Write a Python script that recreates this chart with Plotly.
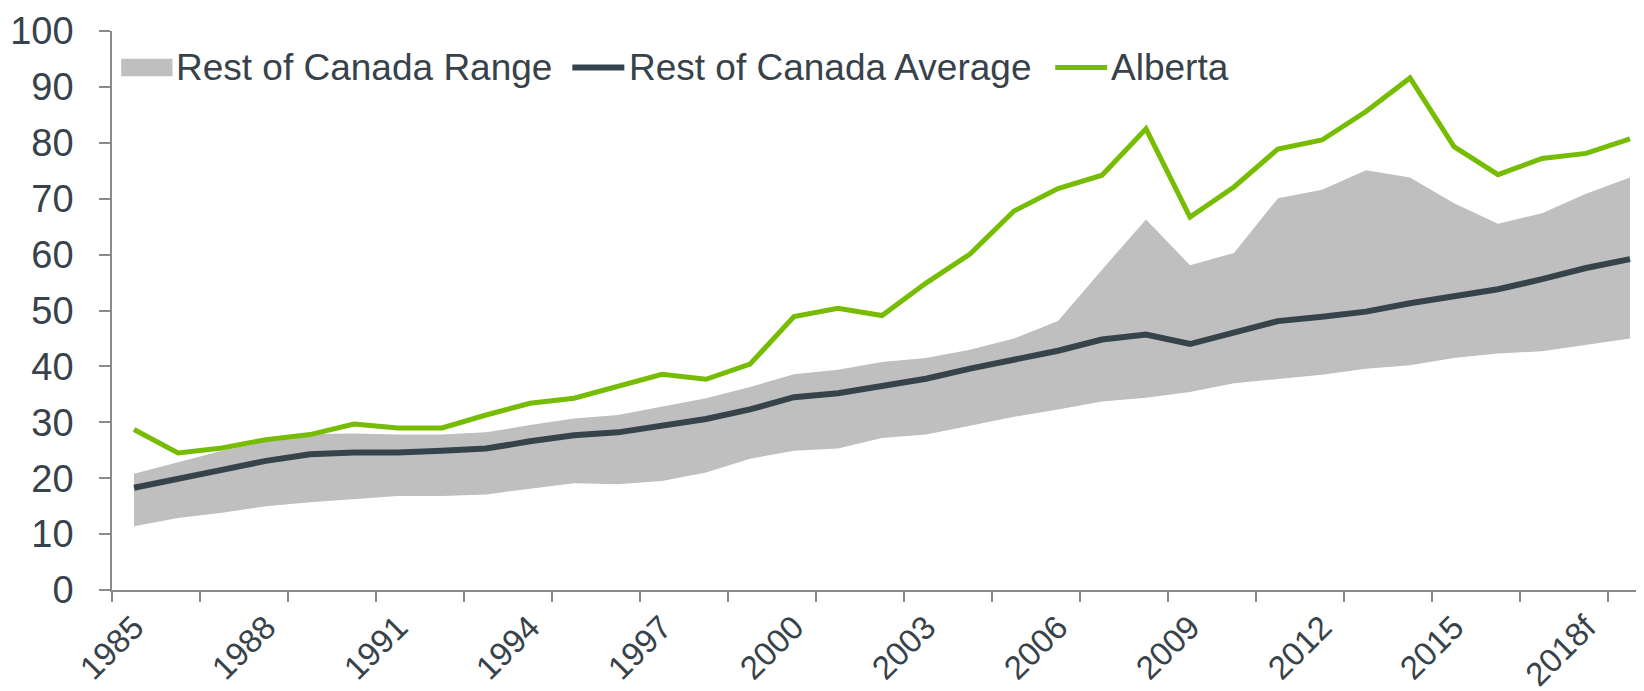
import plotly.graph_objects as go

years = [str(y) for y in range(1985, 2018)] + ["2018f", "2019f"]
range_low = [11.4, 12.9, 13.8, 15.0, 15.7, 16.2, 16.8, 16.8, 17.1, 18.1,
             19.1, 18.9, 19.5, 21.0, 23.5, 24.9, 25.3, 27.2, 27.8, 29.4,
             31.0, 32.3, 33.7, 34.4, 35.4, 37.0, 37.8, 38.5, 39.6, 40.2,
             41.5, 42.3, 42.7, 43.9, 45.0]
range_high = [20.8, 22.9, 24.9, 26.6, 27.9, 28.0, 27.8, 27.8, 28.2, 29.5,
              30.7, 31.3, 32.8, 34.3, 36.3, 38.6, 39.4, 40.8, 41.5, 43.0,
              45.0, 48.1, 57.3, 66.3, 58.1, 60.3, 70.1, 71.6, 75.1, 73.8,
              69.2, 65.5, 67.4, 70.9, 73.8]
roc_average = [18.3, 19.8, 21.5, 23.1, 24.3, 24.6, 24.6, 24.9, 25.3, 26.6,
               27.7, 28.2, 29.5, 30.6, 32.3, 34.5, 35.2, 36.6, 37.8, 39.6,
               41.2, 42.8, 44.8, 45.7, 44.0, 46.0, 48.1, 48.9, 49.8, 51.3,
               52.6, 53.8, 55.6, 57.6, 59.2]
alberta = [28.7, 24.5, 25.4, 26.9, 27.8, 29.7, 29.0, 29.0, 31.3, 33.4,
           34.3, 36.4, 38.6, 37.7, 40.4, 48.9, 50.4, 49.1, 54.9, 60.1,
           67.8, 71.8, 74.2, 82.5, 66.7, 72.1, 78.9, 80.5, 85.6, 91.6,
           79.3, 74.3, 77.2, 78.1, 80.7]
y_ticks = list(range(0, 101, 10))
series_names = ["Rest of Canada Range", "Rest of Canada Average", "Alberta"]

# styling
W, H = 1644, 691
ML, MR, MT, MB = 103.5, 0, 23, 109
TEXT = "#37424a"
AXIS = "#8a8a8a"
GRAY = "#bfbfbf"
DARK = "#36434b"
GREEN = "#76bc00"
FONT = "Liberation Sans, Arial, sans-serif"
FS_LEG = 37
FS_Y = 38
FS_X = 33

idx = list(range(len(years)))

fig = go.Figure()
fig.add_trace(go.Scatter(x=idx, y=range_low, mode="lines", line=dict(width=0, color=GRAY),
                         showlegend=False, hoverinfo="skip"))
fig.add_trace(go.Scatter(x=idx, y=range_high, mode="lines", line=dict(width=0, color=GRAY),
                         fill="tonexty", fillcolor=GRAY, name=series_names[0], showlegend=False))
fig.add_trace(go.Scatter(x=idx, y=roc_average, mode="lines", line=dict(width=6, color=DARK),
                         name=series_names[1], showlegend=False))
fig.add_trace(go.Scatter(x=idx, y=alberta, mode="lines", line=dict(width=5, color=GREEN),
                         name=series_names[2], showlegend=False))
# invisible trace to host the tick-mark axis
fig.add_trace(go.Scatter(x=[idx[0]], y=[None], xaxis="x2", showlegend=False, hoverinfo="skip"))

xr = [-0.5, len(years) - 0.5]
label_idx = idx[::3]
fig.update_layout(
    width=W, height=H,
    margin=dict(l=ML, r=MR, t=MT, b=MB, pad=0),
    paper_bgcolor="white", plot_bgcolor="white",
    font=dict(family=FONT, size=FS_LEG, color=TEXT),
    showlegend=False,
    xaxis=dict(range=xr, tickmode="array", tickvals=label_idx,
               ticktext=[years[i] for i in label_idx], tickangle=-45,
               ticks="", showgrid=False, zeroline=False,
               showline=True, linecolor=AXIS, linewidth=1.5,
               tickfont=dict(family=FONT, size=FS_X, color=TEXT),
               ticklabelstandoff=3),
    xaxis2=dict(range=xr, overlaying="x", anchor="y", side="bottom",
                tickmode="array", tickvals=[i - 0.5 for i in idx[::2]],
                ticks="outside", ticklen=11, tickwidth=1.5, tickcolor=AXIS,
                showticklabels=False, showgrid=False, zeroline=False, showline=False),
    yaxis=dict(range=[0, 100], tickmode="array", tickvals=y_ticks,
               ticks="outside", ticklen=11, tickwidth=1.5, tickcolor=AXIS,
               showgrid=False, zeroline=False, showline=True, linecolor=AXIS, linewidth=1.5,
               tickfont=dict(family=FONT, size=FS_Y, color=TEXT),
               ticklabelstandoff=18),
)

# manual legend (pixel layout -> paper coords)
pw = W - ML - MR
ph = H - MT - MB
def px(xp):
    return (xp - ML) / pw
def py(yp):
    return 1 - (yp - MT) / ph

leg_y = 59.5
fig.add_shape(type="rect", xref="paper", yref="paper",
              x0=px(112.7), x1=px(164), y0=py(50.7), y1=py(68.3),
              fillcolor=GRAY, line=dict(width=0))
fig.add_shape(type="line", xref="paper", yref="paper",
              x0=px(564), x1=px(616), y0=py(leg_y), y1=py(leg_y),
              line=dict(color=DARK, width=6))
fig.add_shape(type="line", xref="paper", yref="paper",
              x0=px(1047), x1=px(1099), y0=py(leg_y), y1=py(leg_y),
              line=dict(color=GREEN, width=5))
for name, xs in zip(series_names, [166, 619, 1101]):
    fig.add_annotation(text=name, xref="paper", yref="paper", x=px(xs), y=py(leg_y),
                       xanchor="left", yanchor="middle", showarrow=False,
                       font=dict(family=FONT, size=FS_LEG, color=TEXT))

fig.write_html("out.html")
